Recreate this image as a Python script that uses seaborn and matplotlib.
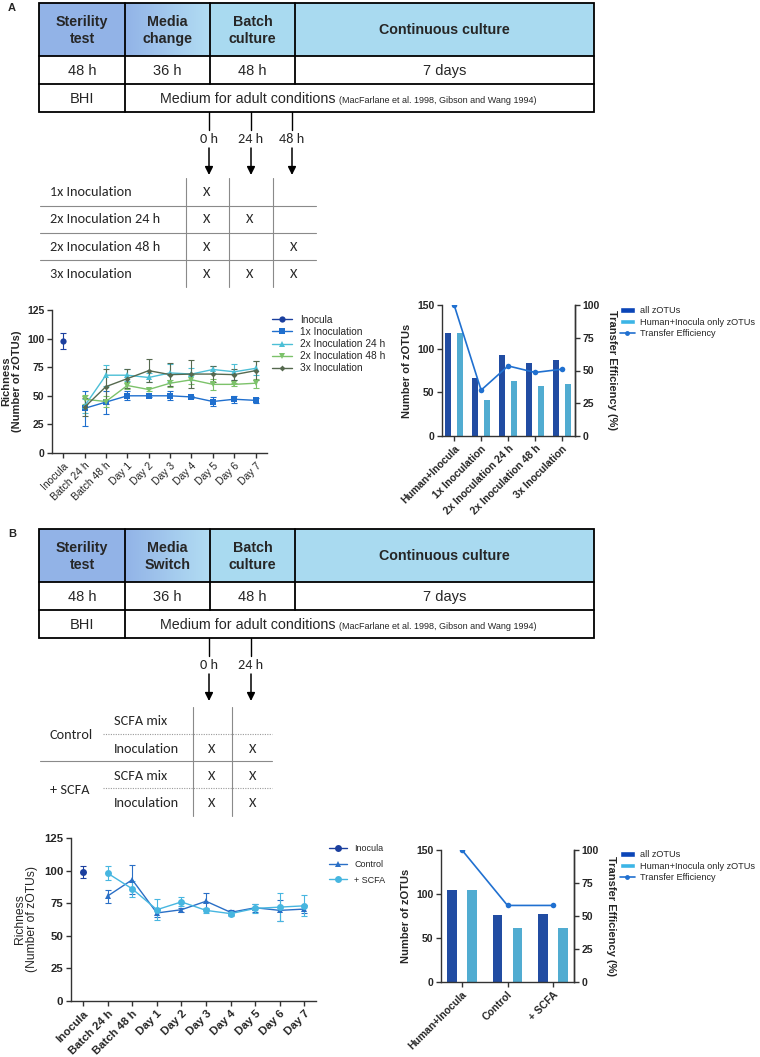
import numpy as np
import pandas as pd
import matplotlib
matplotlib.use("Agg")
import matplotlib.pyplot as plt
import seaborn as sns
from matplotlib import font_manager
from matplotlib.lines import Line2D
from matplotlib.patches import Patch, Rectangle
from matplotlib.colors import LinearSegmentedColormap

# ------------------------------------------------------------------ data
time_points = ["Inocula", "Batch 24 h", "Batch 48 h", "Day 1", "Day 2",
               "Day 3", "Day 4", "Day 5", "Day 6", "Day 7"]

# Panel A richness (mean, sd); series other than Inocula start at Batch 24 h
a_inocula_mean = [97.5]
a_inocula_sd = [7]
a_1x_mean = [39, 44.5, 50, 50, 50, 49, 45, 47, 46]
a_1x_sd = [15, 10, 4, 1, 4, 1, 4, 3, 2]
a_2x24_mean = [41, 68, 68, 66, 70, 69, 73, 71, 74]
a_2x24_sd = [6, 9, 5, 4, 8, 5, 3, 7, 6]
a_2x48_mean = [47, 45, 59, 55.5, 61, 64, 60, 60, 61]
a_2x48_sd = [4, 5, 3, 1, 3, 4, 5, 1, 4]
a_3x_mean = [40, 58, 65, 72, 68.5, 69, 69, 68.5, 72]
a_3x_sd = [8, 15, 8, 10, 10, 12, 7, 5, 8]
a_line_labels = ["Inocula", "1x Inoculation", "2x Inoculation 24 h",
                 "2x Inoculation 48 h", "3x Inoculation"]

# Panel A zOTU counts
a_bar_categories = ["Human+Inocula", "1x Inoculation", "2x Inoculation 24 h",
                    "2x Inoculation 48 h", "3x Inoculation"]
a_all_zotus = [118, 66, 93, 84, 87]
a_human_zotus = [118, 41, 63, 57, 60]
a_transfer_eff = [100, 35, 53.5, 48.5, 51]

# Panel B richness
b_inocula_mean = [99]
b_inocula_sd = [4.5]
b_control_mean = [80.5, 93, 67.5, 70, 76.5, 68, 71.5, 69.5, 70.5]
b_control_sd = [5, 11, 3, 1.5, 6, 2, 3, 8, 3]
b_scfa_mean = [98, 86, 70, 76, 69.5, 67, 71, 72, 73]
b_scfa_sd = [5.5, 6, 8, 3.5, 2, 1.5, 3.5, 11, 8]
b_line_labels = ["Inocula", "Control", "+ SCFA"]

# Panel B zOTU counts
b_bar_categories = ["Human+Inocula", "Control", "+ SCFA"]
b_all_zotus = [105, 76, 77]
b_human_zotus = [105, 61, 61]
b_transfer_eff = [100, 58, 58]

bar_series = ["all zOTUs", "Human+Inocula only zOTUs"]
te_label = "Transfer Efficiency"

# schedule diagram texts
a_headers = ["Sterility\ntest", "Media\nchange", "Batch\nculture", "Continuous culture"]
b_headers = ["Sterility\ntest", "Media\nSwitch", "Batch\nculture", "Continuous culture"]
durations = ["48 h", "36 h", "48 h", "7 days"]
medium_first = "BHI"
medium_main = "Medium for adult conditions"
medium_cite = "(MacFarlane et al. 1998, Gibson and Wang 1994)"
a_times = ["0 h", "24 h", "48 h"]
b_times = ["0 h", "24 h"]
a_sched_rows = ["1x Inoculation", "2x Inoculation 24 h", "2x Inoculation 48 h", "3x Inoculation"]
a_sched_marks = [["X", "", ""], ["X", "X", ""], ["X", "", "X"], ["X", "X", "X"]]
b_groups = ["Control", "+ SCFA"]
b_sub_rows = ["SCFA mix", "Inoculation"]
b_sched_marks = [["", ""], ["X", "X"], ["X", "X"], ["X", "X"]]

# ------------------------------------------------------------------ style
sns.set_style("ticks")
names = {f.name for f in font_manager.fontManager.ttflist}
ARIAL = ["Liberation Sans", "DejaVu Sans"]
NARROW = ["Liberation Sans Narrow", "Liberation Sans", "DejaVu Sans"] if "Liberation Sans Narrow" in names else ARIAL
CALIBRI = ["Carlito", "Lato", "DejaVu Sans"] if "Carlito" in names else ["Lato", "DejaVu Sans"]
plt.rcParams["font.family"] = ARIAL
plt.rcParams["axes.linewidth"] = 1.0
plt.rcParams["axes.edgecolor"] = "#333333"

W, H = 760, 1057
fig = plt.figure(figsize=(W / 100, H / 100), dpi=100)
fig.patch.set_facecolor("white")

ax0 = fig.add_axes([0, 0, 1, 1])
ax0.set_xlim(0, W)
ax0.set_ylim(H, 0)
ax0.axis("off")

c_steril = "#92b3e7"
c_batch = "#a9daf0"
c_media_end = "#b2ddf3"

col_x = [39, 125, 210, 295, 594]
SCH_FS = 10.3


def draw_schedule(top, headers, label):
    ys = [top, top + 53, top + 81, top + 109]
    ax0.text(8, top + 5, label, fontsize=8, fontweight="bold", ha="left", va="center")
    ax0.add_patch(Rectangle((col_x[0], ys[0]), col_x[1] - col_x[0], ys[1] - ys[0],
                            facecolor=c_steril, lw=0, zorder=1))
    grad = np.linspace(0, 1, 128).reshape(1, -1)
    cmap = LinearSegmentedColormap.from_list("g", [c_steril, c_media_end])
    ax0.imshow(grad, extent=(col_x[1], col_x[2], ys[1], ys[0]), cmap=cmap,
               aspect="auto", zorder=1, interpolation="bilinear")
    ax0.add_patch(Rectangle((col_x[2], ys[0]), col_x[4] - col_x[2], ys[1] - ys[0],
                            facecolor=c_batch, lw=0, zorder=1))
    lw = 1.3
    ax0.add_patch(Rectangle((col_x[0], ys[0]), col_x[4] - col_x[0], ys[3] - ys[0],
                            facecolor="none", edgecolor="black", lw=lw, zorder=3))
    for y in ys[1:3]:
        ax0.plot([col_x[0], col_x[4]], [y, y], color="black", lw=lw, zorder=3)
    for x in col_x[1:4]:
        ax0.plot([x, x], [ys[0], ys[2]], color="black", lw=lw, zorder=3)
    ax0.plot([col_x[1], col_x[1]], [ys[2], ys[3]], color="black", lw=lw, zorder=3)
    for i, h in enumerate(headers):
        cx = (col_x[i] + col_x[i + 1]) / 2
        ax0.text(cx, (ys[0] + ys[1]) / 2 + 1, h, ha="center", va="center", fontsize=10.3,
                 fontweight="bold", family=NARROW, linespacing=1.25, zorder=4)
        ax0.text(cx, (ys[1] + ys[2]) / 2 + 1, durations[i], ha="center", va="center",
                 fontsize=10.5, family=NARROW, zorder=4)
    ax0.text((col_x[0] + col_x[1]) / 2, (ys[2] + ys[3]) / 2 + 1, medium_first,
             ha="center", va="center", fontsize=10.5, family=NARROW, zorder=4)
    yb = (ys[2] + ys[3]) / 2 + 5
    ax0.text(335, yb, medium_main, ha="right", va="baseline", fontsize=10.3,
             family=NARROW, zorder=4)
    ax0.text(339, yb, medium_cite, ha="left", va="baseline", fontsize=6.5,
             family=NARROW, zorder=4)
    return ys[3]


def draw_times(bottom, xs, labels):
    for x, lab in zip(xs, labels):
        ax0.plot([x, x], [bottom, bottom + 18], color="black", lw=1.0)
        ax0.text(x, bottom + 27, lab, ha="center", va="center", fontsize=SCH_FS, family=CALIBRI)
        ax0.annotate("", xy=(x, bottom + 63), xytext=(x, bottom + 36),
                     arrowprops=dict(arrowstyle="-|>", color="black", lw=1.1,
                                     mutation_scale=12, shrinkA=0, shrinkB=0))


# ---- schedule A
bot_a = draw_schedule(3, a_headers, "A")
draw_times(bot_a, [209, 251, 292], a_times)
row_y = [192, 219, 247, 274]
for y in [206, 233, 260]:
    ax0.plot([40, 316], [y, y], color="#8a8a8a", lw=0.8)
for x in [186, 229, 273]:
    ax0.plot([x, x], [178, 287], color="#8a8a8a", lw=0.8)
for r, (lab, marks) in enumerate(zip(a_sched_rows, a_sched_marks)):
    ax0.text(50, row_y[r], lab, ha="left", va="center", fontsize=SCH_FS, family=CALIBRI)
    for xm, m in zip([207, 250, 294], marks):
        ax0.text(xm, row_y[r], m, ha="center", va="center", fontsize=SCH_FS, family=CALIBRI)

# ---- schedule B
bot_b = draw_schedule(529, b_headers, "B")
draw_times(bot_b, [209, 251], b_times)
sub_y = [721, 749, 776, 803]
for x in [193, 232]:
    ax0.plot([x, x], [707, 816], color="#8a8a8a", lw=0.8)
for y in [734, 788]:
    ax0.plot([103, 272], [y, y], color="#9a9a9a", lw=0.8, ls=(0, (1, 1.2)))
ax0.plot([40, 272], [761, 761], color="#8a8a8a", lw=0.8)
for g, lab in enumerate(b_groups):
    ax0.text(50, (sub_y[2 * g] + sub_y[2 * g + 1]) / 2, lab, ha="left", va="center",
             fontsize=SCH_FS, family=CALIBRI)
for r in range(4):
    ax0.text(114, sub_y[r], b_sub_rows[r % 2], ha="left", va="center", fontsize=SCH_FS,
             family=CALIBRI)
    for xm, m in zip([212, 253], b_sched_marks[r]):
        ax0.text(xm, sub_y[r], m, ha="center", va="center", fontsize=SCH_FS, family=CALIBRI)


# ------------------------------------------------------------------ charts
def px_axes(x0, y0, x1, y1):
    return fig.add_axes([x0 / W, 1 - y1 / H, (x1 - x0) / W, (y1 - y0) / H])


def line_panel(ax, series, ylabel, ylabel_bold, tick_fs, xtick_bold, legend_pos,
               legend_fs, legend_spacing, xlim):
    handles = []
    for name, mean, sd, color, marker, ms, start in series:
        pos = np.arange(start, start + len(mean))
        df = pd.DataFrame({"pos": pos, "val": mean})
        sns.lineplot(data=df, x="pos", y="val", ax=ax, color=color, marker=marker,
                     markersize=ms, markeredgewidth=0, linewidth=1.0, legend=False,
                     zorder=3)
        ax.errorbar(pos, mean, yerr=sd, fmt="none", ecolor=color, elinewidth=0.8,
                    capsize=2.2, capthick=0.8, zorder=2)
        handles.append(Line2D([], [], color=color, marker=marker, markersize=ms,
                              markeredgewidth=0, lw=1.0, label=name))
    ax.set_xlim(*xlim)
    ax.set_ylim(0, 125)
    ax.set_yticks([0, 25, 50, 75, 100, 125])
    ax.set_xticks(np.arange(len(time_points)))
    ax.set_xticklabels(time_points, rotation=45, ha="right", rotation_mode="anchor",
                       fontsize=tick_fs, fontweight="bold" if xtick_bold else "normal")
    for t in ax.get_yticklabels():
        t.set_fontweight("bold")
        t.set_fontsize(tick_fs)
    ax.tick_params(axis="both", length=3.5, width=1.0, pad=2, color="#333333")
    ax.set_xlabel("")
    ax.set_ylabel(ylabel, fontsize=tick_fs + 0.5, fontweight="bold" if ylabel_bold else "normal",
                  labelpad=4, linespacing=1.1)
    sns.despine(ax=ax)
    ax.legend(handles=handles, loc="upper left", bbox_to_anchor=legend_pos,
              bbox_transform=fig.transFigure, frameon=False, fontsize=legend_fs,
              borderpad=0, borderaxespad=0, labelspacing=legend_spacing,
              handlelength=2.0, handletextpad=0.8)


def bar_panel(ax, cats, all_z, human_z, te, legend_pos, xlim, tick_fs):
    dark, light, linec = "#0b45b7", "#3cb5e6", "#2070d0"
    df = pd.DataFrame({
        "cat": cats * 2,
        "series": [bar_series[0]] * len(cats) + [bar_series[1]] * len(cats),
        "val": all_z + human_z,
    })
    sns.barplot(data=df, x="cat", y="val", hue="series", order=cats,
                hue_order=bar_series, palette=[dark, light], width=0.88, gap=0.52,
                linewidth=0, ax=ax, legend=False, zorder=2)
    ax2 = ax.twinx()
    sns.lineplot(x=np.arange(len(cats)), y=te, ax=ax2, color=linec, marker="o",
                 markersize=4, markeredgewidth=0, linewidth=1.2, legend=False)
    ax.set_xlim(*xlim)
    ax2.set_xlim(*xlim)
    ax.set_ylim(0, 150)
    ax.set_yticks([0, 50, 100, 150])
    ax2.set_ylim(0, 100)
    ax2.set_yticks([0, 25, 50, 75, 100])
    ax.set_xticks(np.arange(len(cats)))
    ax.set_xticklabels(cats, rotation=45, ha="right", rotation_mode="anchor",
                       fontsize=tick_fs, fontweight="bold")
    for a in (ax, ax2):
        for t in a.get_yticklabels():
            t.set_fontweight("bold")
            t.set_fontsize(tick_fs)
        a.tick_params(axis="both", length=3.5, width=1.0, pad=2, color="#333333")
        a.spines["top"].set_visible(False)
    ax2.spines["left"].set_visible(False)
    ax2.spines["bottom"].set_visible(False)
    ax.set_xlabel("")
    ax.set_ylabel("Number of zOTUs", fontsize=tick_fs + 0.5, fontweight="bold", labelpad=4)
    ax2.set_ylabel("Transfer Efficiency (%)", fontsize=tick_fs + 0.5, fontweight="bold",
                   rotation=270, labelpad=12)
    ax2.set_xlabel("")
    handles = [Patch(facecolor=dark, label=bar_series[0]),
               Patch(facecolor=light, label=bar_series[1]),
               Line2D([], [], color=linec, marker="o", markersize=3.5,
                      markeredgewidth=0, lw=1.2, label=te_label)]
    ax2.legend(handles=handles, loc="upper left", bbox_to_anchor=legend_pos,
               bbox_transform=fig.transFigure, frameon=False, fontsize=6.6,
               borderpad=0, borderaxespad=0, labelspacing=0.3, handlelength=1.6,
               handleheight=0.6, handletextpad=0.6)


# Panel A line
axA = px_axes(52, 310, 267, 453)
line_panel(axA, [
    (a_line_labels[0], a_inocula_mean, a_inocula_sd, "#1b3f9e", "o", 4.5, 0),
    (a_line_labels[1], a_1x_mean, a_1x_sd, "#1f6fce", "s", 4.5, 1),
    (a_line_labels[2], a_2x24_mean, a_2x24_sd, "#4cbfd6", "^", 4.5, 1),
    (a_line_labels[3], a_2x48_mean, a_2x48_sd, "#7cc26a", "v", 4.5, 1),
    (a_line_labels[4], a_3x_mean, a_3x_sd, "#56694f", "D", 3.0, 1),
], "Richness\n(Number of zOTUs)", True, 7.5, False, (272 / W, 1 - 315 / H), 7.3, 0.2,
   (-0.52, 9.53))

# Panel A bars
axAb = px_axes(442, 305, 575, 436)
bar_panel(axAb, a_bar_categories, a_all_zotus, a_human_zotus, a_transfer_eff,
          (620 / W, 1 - 306 / H), (-0.45, 4.48), 7.5)

# Panel B line
axB = px_axes(71, 838, 316, 1001)
line_panel(axB, [
    (b_line_labels[0], b_inocula_mean, b_inocula_sd, "#1b3f9e", "o", 5, 0),
    (b_line_labels[1], b_control_mean, b_control_sd, "#2a6fc6", "^", 5, 1),
    (b_line_labels[2], b_scfa_mean, b_scfa_sd, "#47b6e0", "o", 5, 1),
], "Richness\n(Number of zOTUs)", False, 8.2, True, (329 / W, 1 - 844 / H), 6.5, 0.75,
   (-0.49, 9.47))

# Panel B bars
axBb = px_axes(441, 850, 574, 982)
bar_panel(axBb, b_bar_categories, b_all_zotus, b_human_zotus, b_transfer_eff,
          (620 / W, 1 - 850 / H), (-0.46, 2.46), 7.5)

fig.savefig("out.png", dpi=100)
